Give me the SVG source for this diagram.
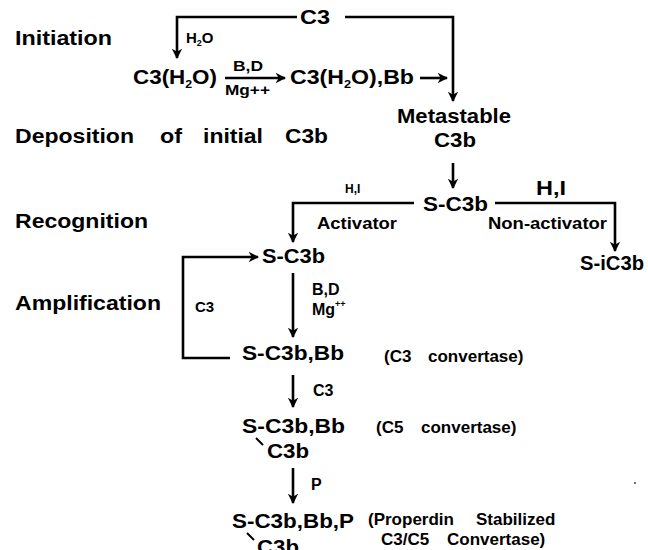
<svg xmlns="http://www.w3.org/2000/svg" width="648" height="550" viewBox="0 0 648 550">
<defs>
<marker id="ah" viewBox="0 0 10 10" refX="9" refY="5" markerWidth="4" markerHeight="4" orient="auto" markerUnits="strokeWidth">
<path d="M0,0 L10,5 L0,10 L3,5 Z" fill="#000"/>
</marker>
<style>
text{font-family:"Liberation Sans",Arial,sans-serif;font-weight:bold;fill:#000}
.big{font-size:20px}
.md{font-size:16px}
.pr{font-size:17px}
.sm{font-size:15px}
.xs{font-size:12px}
.ln{fill:none;stroke:#000;stroke-width:2.6}
.ar{marker-end:url(#ah)}
.bond{stroke:#000;stroke-width:2}
</style>
</defs>
<rect width="648" height="550" fill="#fff"/>
<g id="stage-labels">
<text class="big" x="15" y="45" textLength="97" lengthAdjust="spacingAndGlyphs">Initiation</text>
<text class="big" x="15" y="143" textLength="119" lengthAdjust="spacingAndGlyphs">Deposition</text>
<text class="big" x="160" y="143" textLength="22" lengthAdjust="spacingAndGlyphs">of</text>
<text class="big" x="203" y="143" textLength="60" lengthAdjust="spacingAndGlyphs">initial</text>
<text class="big" x="285" y="143" textLength="43" lengthAdjust="spacingAndGlyphs">C3b</text>
<text class="big" x="15" y="228" textLength="133" lengthAdjust="spacingAndGlyphs">Recognition</text>
<text class="big" x="15" y="310" textLength="146" lengthAdjust="spacingAndGlyphs">Amplification</text>
</g>
<g id="connectors">
<path class="ln ar" d="M297,17 H177 V58"/>
<path class="ln ar" d="M345,17 H453 V101"/>
<path class="ln ar" d="M225,78 H285"/>
<path class="ln ar" d="M420,78 H447"/>
<path class="ln ar" d="M453,163 V188"/>
<path class="ln ar" d="M414,203 H293 V242"/>
<path class="ln ar" d="M495,203 H615 V251"/>
<path class="ln ar" d="M230,358 H183 V257 H258"/>
<path class="ln ar" d="M293,273 V337"/>
<path class="ln ar" d="M293,375 V407"/>
<path class="ln ar" d="M293,468 V503"/>
</g>
<g id="c3"><text class="big" x="300" y="24" textLength="30" lengthAdjust="spacingAndGlyphs">C3</text></g>
<g id="h2o-label"><text class="sm" x="186" y="43">H<tspan font-size="9" dy="3">2</tspan><tspan dy="-3">O</tspan></text></g>
<g id="c3h2o"><text class="big" x="133" y="84" textLength="84" lengthAdjust="spacingAndGlyphs">C3(H<tspan font-size="11" dy="4">2</tspan><tspan dy="-4">O)</tspan></text></g>
<g id="bd1"><text class="sm" x="233" y="71" textLength="30" lengthAdjust="spacingAndGlyphs">B,D</text><text class="sm" x="225" y="95" textLength="45" lengthAdjust="spacingAndGlyphs">Mg++</text></g>
<g id="c3h2obb"><text class="big" x="290" y="84" textLength="124" lengthAdjust="spacingAndGlyphs">C3(H<tspan font-size="11" dy="4">2</tspan><tspan dy="-4">O),Bb</tspan></text></g>
<g id="metastable"><text class="big" x="397" y="123" textLength="114" lengthAdjust="spacingAndGlyphs">Metastable</text><text class="big" x="434" y="147" textLength="42" lengthAdjust="spacingAndGlyphs">C3b</text></g>
<g id="sc3b-top"><text class="big" x="423" y="211" textLength="65" lengthAdjust="spacingAndGlyphs">S-C3b</text></g>
<g id="hi-small"><text class="xs" x="345" y="193">H,I</text></g>
<g id="activator"><text class="md" x="317" y="229" textLength="80" lengthAdjust="spacingAndGlyphs">Activator</text></g>
<g id="hi-big"><text class="big" x="536" y="195" textLength="30" lengthAdjust="spacingAndGlyphs">H,I</text></g>
<g id="nonactivator"><text class="md" x="488" y="229" textLength="119" lengthAdjust="spacingAndGlyphs">Non-activator</text></g>
<g id="sic3b"><text class="big" x="580" y="270" textLength="64" lengthAdjust="spacingAndGlyphs">S-iC3b</text></g>
<g id="sc3b"><text class="big" x="262" y="263" textLength="63" lengthAdjust="spacingAndGlyphs">S-C3b</text></g>
<g id="c3-loop"><text class="sm" x="195" y="312">C3</text></g>
<g id="bd2"><text class="md" x="312" y="295">B,D</text><text class="md" x="312" y="315">Mg<tspan font-size="9" dy="-8">++</tspan></text></g>
<g id="c3conv"><text class="big" x="242" y="360" textLength="102" lengthAdjust="spacingAndGlyphs">S-C3b,Bb</text><text class="pr" x="384" y="362">(C3</text><text class="pr" x="428" y="362">convertase)</text></g>
<g id="c3-step"><text class="md" x="313" y="396">C3</text></g>
<g id="c5conv"><text class="big" x="242" y="433" textLength="103" lengthAdjust="spacingAndGlyphs">S-C3b,Bb</text><line class="bond" x1="256" y1="438" x2="263" y2="445"/><text class="big" x="267" y="458" textLength="42" lengthAdjust="spacingAndGlyphs">C3b</text><text class="pr" x="376" y="433">(C5</text><text class="pr" x="421" y="433">convertase)</text></g>
<g id="p-step"><text class="md" x="311" y="490">P</text></g>
<g id="properdin"><text class="big" x="232" y="528" textLength="122" lengthAdjust="spacingAndGlyphs">S-C3b,Bb,P</text><line class="bond" x1="247" y1="533" x2="254" y2="540"/><text class="big" x="257" y="554" textLength="42" lengthAdjust="spacingAndGlyphs">C3b</text><text class="pr" x="368" y="525">(Properdin</text><text class="pr" x="476" y="525">Stabilized</text><text class="pr" x="381" y="545">C3/C5</text><text class="pr" x="447" y="545">Convertase)</text></g>
<g id="speck"><circle cx="635" cy="483" r="1" fill="#444"/></g>
</svg>
